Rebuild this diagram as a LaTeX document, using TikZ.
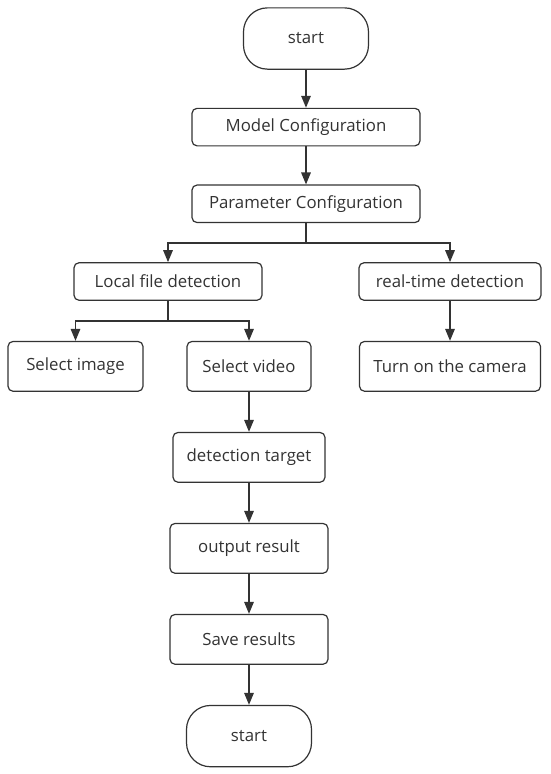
\documentclass[tikz,border=0pt]{standalone}
\usepackage{fontspec}
\setmainfont{Open Sans}
\usetikzlibrary{
    arrows.meta,
    positioning,
    calc,
}
\definecolor{inkgray}{HTML}{333333}

\begin{document}
\begin{tikzpicture}[
        x=1pt, y=1pt,
        box/.style={rectangle, draw=inkgray, fill=white, line width=1.2pt,
            rounded corners=5pt, inner sep=0pt, text=inkgray,
            font=\fontsize{16.8}{20}\selectfont},
        proc/.style={box, minimum height=37.5pt},
        tallproc/.style={box, minimum height=49.8pt},
        term/.style={box, rounded corners=24pt, minimum width=125pt,
            minimum height=61.3pt},
        flow/.style={draw=inkgray, line width=1.6pt,
            -{Triangle[length=12pt, width=9.5pt]}},
        node distance=40pt,
    ]
        \useasboundingbox (0,0) rectangle (550,-774);

        \node[term] (start) at (306,-38.5) {start};
        \node[proc, minimum width=228pt] (model) [below=38pt of start] {Model Configuration};
        \node[proc, minimum width=228pt] (param) [below=38pt of model] {Parameter Configuration};
        \node[proc, minimum width=188pt] (local) [below=39pt of param, xshift=-138pt] {Local file detection};
        \node[proc, minimum width=182pt] (realtime) [below=39pt of param, xshift=144pt] {real-time detection};
        \node[tallproc, minimum width=135pt] (image) [below=of local, xshift=-92.5pt] {Select image};
        \node[tallproc, minimum width=124pt] (video) [below=of local, xshift=81pt] {Select video};
        \node[tallproc, minimum width=181pt] (camera) [below=of realtime] {Turn on the camera};
        \node[tallproc, minimum width=152pt] (target) [below=of video] {detection target};
        \node[tallproc, minimum width=158pt] (output) [below=of target] {output result};
        \node[tallproc, minimum width=158pt] (save) [below=of output] {Save results};
        \node[term] (stop) [below=of save] {start};

        % split points
        \coordinate (split1) at ([yshift=-20pt]param.south);
        \coordinate (split2) at ([yshift=-20pt]local.south);

        \path[flow] (start) -- (model);
        \path[flow] (model) -- (param);
        \path[draw=inkgray, line width=1.6pt] (param.south) -- (split1);
        \path[flow] (split1) -| (local.north);
        \path[flow] (split1) -| (realtime.north);
        \path[draw=inkgray, line width=1.6pt] (local.south) -- (split2);
        \path[flow] (split2) -| (image.north);
        \path[flow] (split2) -| (video.north);
        \path[flow] (realtime) -- (camera);
        \path[flow] (video) -- (target);
        \path[flow] (target) -- (output);
        \path[flow] (output) -- (save);
        \path[flow] (save) -- (stop);
    \end{tikzpicture}
\end{document}
